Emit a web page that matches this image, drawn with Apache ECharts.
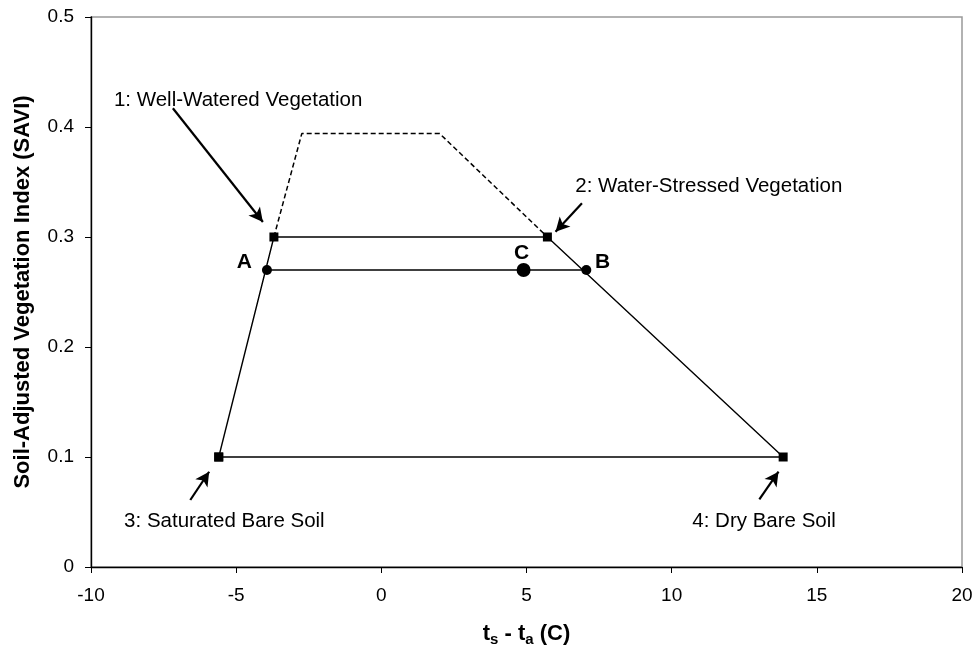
<!DOCTYPE html>
<html><head><meta charset="utf-8">
<script src="https://cdn.jsdelivr.net/npm/echarts@6/dist/echarts.min.js"></script>
<style>html,body{margin:0;padding:0;background:#fff}#c{width:977px;height:652px}</style>
</head><body><div id="c"></div>
<script>
// Key points [x, y]
const wellWatered = [-3.70, 0.30];
const waterStressed = [5.72, 0.30];
const saturatedSoil = [-5.60, 0.10];
const dryBareSoil = [13.84, 0.10];
const pointA = [-3.94, 0.27];
const pointB = [7.06, 0.27];
const pointC = [4.90, 0.27];
// dashed upper extension
const dashedPath = [[-3.70, 0.30], [-2.74, 0.394], [2.01, 0.394], [5.72, 0.30]];
// annotation arrows [start, end]
const arrows = [
  [[-7.18, 0.417], [-4.08, 0.3136]],
  [[6.91, 0.3306], [6.00, 0.3048]],
  [[-6.58, 0.0609], [-5.93, 0.0866]],
  [[13.02, 0.0615], [13.68, 0.0866]]
];
const annoTexts = ['1: Well-Watered Vegetation', '2: Water-Stressed Vegetation', '3: Saturated Bare Soil', '4: Dry Bare Soil'];
const annoPos = [[-9.21, 0.4245], [6.68, 0.3464], [-8.86, 0.0418], [10.71, 0.0418]];
const letterTexts = ['A', 'C', 'B'];
const letterPos = [[-4.72, 0.2773], [4.83, 0.2855], [7.62, 0.2773]];
const xTicks = [-10, -5, 0, 5, 10, 15, 20];
const yTicks = [0, 0.1, 0.2, 0.3, 0.4, 0.5];

const FONT = '"Liberation Sans", Arial, sans-serif';
const chart = echarts.init(document.getElementById('c'));
const lineStyle = {color: '#000', width: 1.4};
chart.setOption({
  animation: false,
  grid: {left: 91, right: 15, top: 17, bottom: 85, show: true, borderColor: '#999', borderWidth: 1.5,
         containLabel: false, outerBoundsMode: 'none'},
  xAxis: {
    type: 'value', min: xTicks[0], max: xTicks[xTicks.length - 1], interval: 5,
    axisLine: {show: true, onZero: false, lineStyle: {color: '#000', width: 1.4}},
    axisTick: {show: true, length: 6, lineStyle: {color: '#000'}},
    splitLine: {show: false},
    axisLabel: {color: '#000', fontSize: 19, fontFamily: FONT, margin: 19},
    name: '{b|t}{s|s}{b| - t}{s|a}{b| (C)}', nameLocation: 'middle', nameGap: 53,
    nameTextStyle: {rich: {
      b: {fontSize: 22, fontWeight: 'bold', fontFamily: FONT, color: '#000'},
      s: {fontSize: 15, fontWeight: 'bold', fontFamily: FONT, color: '#000', verticalAlign: 'bottom', padding: [12, 0, 0, 0]}
    }}
  },
  yAxis: {
    type: 'value', min: yTicks[0], max: yTicks[yTicks.length - 1], interval: 0.1,
    axisLine: {show: true, onZero: false, lineStyle: {color: '#000', width: 1.4}},
    axisTick: {show: true, length: 6, lineStyle: {color: '#000'}},
    splitLine: {show: false},
    axisLabel: {color: '#000', fontSize: 19, fontFamily: FONT, margin: 17},
    name: 'Soil-Adjusted Vegetation Index (SAVI)', nameLocation: 'middle', nameGap: 57,
    nameTextStyle: {fontSize: 22, fontWeight: 'bold', fontFamily: FONT, color: '#000'}
  },
  series: [
    {type: 'line', data: [saturatedSoil, wellWatered, waterStressed, dryBareSoil, saturatedSoil],
     symbol: 'rect', symbolSize: 9, itemStyle: {color: '#000', opacity: 1}, lineStyle: lineStyle, z: 3},
    {type: 'line', data: dashedPath, symbol: 'none', lineStyle: {color: '#000', width: 1.5, type: [5, 3]}},
    {type: 'line', data: [pointA, pointB], symbol: 'circle', symbolSize: 10, itemStyle: {color: '#000', opacity: 1}, lineStyle: lineStyle, z: 3},
    {type: 'scatter', data: [pointC], symbol: 'circle', symbolSize: 14, itemStyle: {color: '#000', opacity: 1}, z: 4},
    {type: 'scatter', symbolSize: 0, silent: true, itemStyle: {opacity: 1},
     data: annoPos.map((p, i) => ({value: p, label: {formatter: annoTexts[i]}})),
     label: {show: true, position: [0, 0], align: 'left', verticalAlign: 'middle', fontSize: 20.5, fontFamily: FONT, color: '#000', opacity: 1},
     markLine: {silent: true, symbol: ['none', 'arrow'], symbolSize: [11, 14], label: {show: false},
       lineStyle: {color: '#000', width: 2.2, type: 'solid', opacity: 1},
       data: arrows.map(a => [{coord: a[0]}, {coord: a[1]}])}
    },
    {type: 'scatter', symbolSize: 0, silent: true, itemStyle: {opacity: 1},
     data: letterPos.map((p, i) => ({value: p, label: {formatter: letterTexts[i]}})),
     label: {show: true, position: [0, 0], align: 'center', verticalAlign: 'middle', fontSize: 21, fontWeight: 'bold', fontFamily: FONT, color: '#000', opacity: 1}}
  ]
});
</script></body></html>
